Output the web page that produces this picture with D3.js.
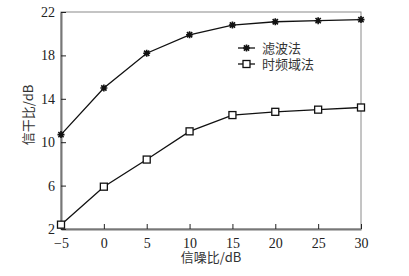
<!DOCTYPE html>
<html>
<head>
<meta charset="utf-8">
<script src="https://cdn.jsdelivr.net/npm/d3@7"></script>
<style>
  body { margin: 0; background: #fff; }
  svg { display: block; }
</style>
</head>
<body>
<svg width="409" height="276"></svg>
<script>
// SNR values (x axis)
const snr = [-5, 0, 5, 10, 15, 20, 25, 30];
// signal-to-interference ratio for each method
const filterVals = [10.7, 15.0, 18.2, 19.9, 20.8, 21.1, 21.2, 21.3];
const tfVals = [2.4, 5.9, 8.4, 11.0, 12.5, 12.8, 13.0, 13.2];
const seriesNames = ['滤波法', '时频域法'];
const xTicks = [-5, 0, 5, 10, 15, 20, 25, 30];
const yTicks = [2, 6, 10, 14, 18, 22];

const svg = d3.select('svg');
const margin = { top: 12, right: 48, bottom: 47, left: 61 };
const width = 409, height = 276;
const innerWidth = width - margin.left - margin.right;
const innerHeight = height - margin.top - margin.bottom;
const numFont = '"Liberation Serif", "DejaVu Serif", serif';
const cjkFont = '"Noto Sans CJK SC", sans-serif';

const g = svg.append('g')
    .attr('transform', `translate(${margin.left}, ${margin.top})`);

const x = d3.scaleLinear().domain([-5, 30]).range([0, innerWidth]);
const y = d3.scaleLinear().domain([2, 22]).range([innerHeight, 0]);

// frame
g.append('rect')
    .attr('width', innerWidth)
    .attr('height', innerHeight)
    .attr('fill', 'none')
    .attr('stroke', '#8a8a8a')
    .attr('stroke-width', 1);

// x axis, ticks point inward
const xAxis = g.append('g')
    .attr('transform', `translate(0, ${innerHeight})`)
    .call(d3.axisBottom(x).tickValues(xTicks).tickSizeInner(-5).tickSizeOuter(0).tickPadding(9));
xAxis.select('.domain').attr('stroke', '#777').attr('stroke-width', 2);
xAxis.selectAll('.tick line').attr('stroke', '#222');
xAxis.selectAll('text')
    .style('font-family', numFont)
    .style('font-size', '14px')
    .attr('fill', '#222');

// y axis
const yAxis = g.append('g')
    .call(d3.axisLeft(y).tickValues(yTicks).tickSizeInner(-5).tickSizeOuter(0).tickPadding(6));
yAxis.select('.domain').attr('stroke', '#777').attr('stroke-width', 2);
yAxis.selectAll('.tick line').attr('stroke', '#222');
yAxis.selectAll('text')
    .style('font-family', numFont)
    .style('font-size', '14px')
    .attr('fill', '#222');

// axis titles
svg.append('text')
    .attr('x', 211)
    .attr('y', 262)
    .attr('text-anchor', 'middle')
    .style('font-family', cjkFont)
    .style('font-size', '13px')
    .attr('fill', '#333')
    .text('信噪比/dB');

svg.append('text')
    .attr('transform', 'translate(33, 115) rotate(-90)')
    .attr('text-anchor', 'middle')
    .style('font-family', cjkFont)
    .style('font-size', '13px')
    .attr('fill', '#333')
    .text('信干比/dB');

const line = d3.line()
    .x((d, i) => x(snr[i]))
    .y(d => y(d));

// markers
function star(sel) {
    const s = 3.5;
    sel.append('path')
        .attr('d', `M${-s},0H${s}M0,${-s}V${s}M${-s*0.75},${-s*0.75}L${s*0.75},${s*0.75}M${-s*0.75},${s*0.75}L${s*0.75},${-s*0.75}`)
        .attr('stroke', '#111')
        .attr('stroke-width', 1.6)
        .attr('fill', 'none');
}
function square(sel) {
    sel.append('rect')
        .attr('x', -3.5).attr('y', -3.5)
        .attr('width', 7).attr('height', 7)
        .attr('fill', '#fff')
        .attr('stroke', '#111')
        .attr('stroke-width', 1.3);
}

const series = [
    { name: seriesNames[0], values: filterVals, marker: star },
    { name: seriesNames[1], values: tfVals, marker: square }
];

series.forEach(s => {
    g.append('path')
        .datum(s.values)
        .attr('d', line)
        .attr('fill', 'none')
        .attr('stroke', '#111')
        .attr('stroke-width', 1.3);

    g.selectAll(null)
        .data(s.values)
        .enter().append('g')
        .attr('transform', (d, i) => `translate(${x(snr[i])}, ${y(d)})`)
        .call(s.marker);
});

// legend
const legend = svg.append('g');
series.forEach((s, i) => {
    const row = legend.append('g')
        .attr('transform', `translate(238, ${48 + i * 16})`);
    row.append('line')
        .attr('x1', 0).attr('x2', 17)
        .attr('stroke', '#111')
        .attr('stroke-width', 1.3);
    row.append('g')
        .attr('transform', 'translate(8.5, 0)')
        .call(s.marker);
    row.append('text')
        .attr('x', 24)
        .attr('y', 5)
        .style('font-family', cjkFont)
        .style('font-size', '13px')
        .attr('fill', '#333')
        .text(s.name);
});
</script>
</body>
</html>
